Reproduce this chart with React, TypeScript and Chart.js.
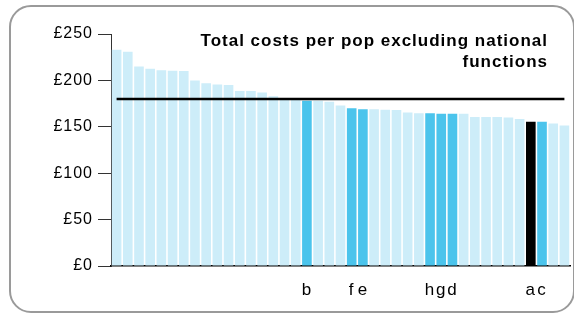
import React, { useEffect, useRef } from "react";
import { Chart, registerables } from "chart.js";

Chart.register(...registerables);

// Category labels (most bars unlabelled; lettered bars are highlighted)
const categories: string[] = [
  "", "", "", "", "", "", "", "", "", "", "",
  "", "", "", "", "", "", "b", "", "", "", "f",
  "e", "", "", "", "", "", "h", "g", "d", "", "",
  "", "", "", "", "a", "c", "", "",
];

// Total costs per pop (£)
const costs: number[] = [
  233, 231, 215, 212.5, 211, 210.5, 210, 200, 197, 195.5, 195,
  188.5, 188.5, 187, 183, 179.5, 179, 178, 178, 177, 173, 170,
  169, 169, 168.5, 168, 165.5, 164.5, 164.5, 164, 164, 164, 160.5,
  160.5, 160.5, 160, 158.5, 155.5, 155.5, 153.5, 151.5,
];

const benchmark = 180;
const yTickValues: number[] = [0, 50, 100, 150, 200, 250];
const titleLines: string[] = ["Total costs per pop excluding national", "functions"];

const FONT = "'Liberation Sans', Arial, sans-serif";

export default function App() {
  const ref = useRef<HTMLCanvasElement | null>(null);

  useEffect(() => {
    if (!ref.current) return;
    const colors = categories.map((c) =>
      c === "" ? "#CDEDF9" : c === "a" ? "#000000" : "#4BC4EC"
    );
    const spacingPlugin = {
      id: "letterSpacing",
      beforeDraw(chart: any) {
        (chart.ctx as any).letterSpacing = "1px";
      },
    };
    const titlePlugin = {
      id: "cornerTitle",
      afterDraw(chart: any) {
        const ctx = chart.ctx;
        ctx.save();
        (ctx as any).letterSpacing = "1px";
        ctx.font = `bold 17px ${FONT}`;
        ctx.fillStyle = "#000";
        ctx.textAlign = "right";
        ctx.textBaseline = "alphabetic";
        ctx.fillText(titleLines[0], 548, 46);
        ctx.fillText(titleLines[1], 548, 67);
        ctx.restore();
      },
    };
    const chart = new Chart(ref.current, {
      type: "bar",
      data: {
        labels: categories,
        datasets: [
          {
            type: "line",
            data: categories.map(() => benchmark),
            borderColor: "#000",
            borderWidth: 2.5,
            pointRadius: 0,
            fill: false,
            order: 0,
          } as any,
          {
            type: "bar",
            data: costs,
            backgroundColor: colors,
            barPercentage: 0.86,
            categoryPercentage: 1,
            order: 1,
          },
        ],
      },
      options: {
        animation: false,
        responsive: false,
        maintainAspectRatio: false,
        layout: { padding: { left: 0, right: 4, top: 34, bottom: 0 } },
        plugins: {
          legend: { display: false },
          tooltip: { enabled: false },
          title: { display: false },
        },
        scales: {
          x: {
            grid: { display: false },
            border: { display: true, color: "#000", width: 1.5 },
            ticks: {
              autoSkip: false,
              maxRotation: 0,
              padding: 6,
              color: "#000",
              font: { family: FONT, size: 17 },
            },
            afterFit(scale: any) {
              scale.height = 48;
            },
          },
          y: {
            min: 0,
            max: 250,
            afterBuildTicks(scale: any) {
              scale.ticks = yTickValues.map((v) => ({ value: v }));
            },
            grid: {
              drawOnChartArea: false,
              drawTicks: true,
              tickLength: 13,
              color: "#333",
            },
            border: { display: true, color: "#333", width: 1 },
            ticks: {
              padding: 5,
              color: "#000",
              font: { family: FONT, size: 16 },
              callback: (v: any) => "£" + v,
            },
            afterFit(scale: any) {
              scale.width = 111;
            },
          },
        },
      },
      plugins: [spacingPlugin, titlePlugin],
    });
    return () => chart.destroy();
  }, []);

  return (
    <div style={{ position: "absolute", left: 0, top: 0, width: 574, height: 314, background: "#fff" }}>
      <div
        style={{
          position: "absolute",
          left: 9,
          top: 5,
          width: 562,
          height: 304,
          border: "2px solid #9a9a9a",
          borderRadius: 22,
        }}
      />
      <canvas ref={ref} width={574} height={314} style={{ position: "absolute", left: 0, top: 0 }} />
    </div>
  );
}
